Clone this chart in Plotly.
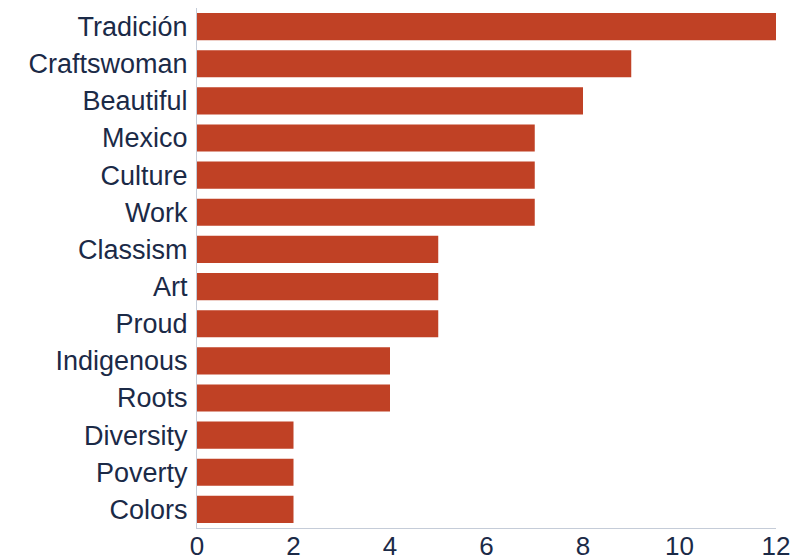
import plotly.graph_objects as go

# Word frequencies, listed top to bottom
words = ["Tradición", "Craftswoman", "Beautiful", "Mexico", "Culture", "Work",
         "Classism", "Art", "Proud", "Indigenous", "Roots", "Diversity",
         "Poverty", "Colors"]
counts = [12, 9, 8, 7, 7, 7, 5, 5, 5, 4, 4, 2, 2, 2]
x_ticks = [0, 2, 4, 6, 8, 10, 12]

bar_color = "#C04125"
text_color = "#1B2A47"
axis_color = "#C5CCD8"

fig = go.Figure(
    go.Bar(
        x=counts,
        y=words,
        orientation="h",
        marker=dict(color=bar_color, line=dict(width=0)),
    )
)

fig.update_layout(
    width=792,
    height=559,
    margin=dict(l=197, r=16, t=8, b=31, autoexpand=False),
    paper_bgcolor="white",
    plot_bgcolor="white",
    bargap=0.27,
    showlegend=False,
    font=dict(family="Liberation Sans, Arial, sans-serif", size=26, color=text_color),
)

fig.update_yaxes(
    categoryorder="array",
    categoryarray=words,
    autorange="reversed",
    automargin=False,
    showline=True,
    linecolor=axis_color,
    linewidth=1,
    showgrid=False,
    ticks="",
    ticklabelstandoff=3,
    tickfont=dict(size=27, color=text_color),
)

fig.update_xaxes(
    range=[0, 12],
    tickvals=x_ticks,
    ticktext=[str(v) for v in x_ticks],
    automargin=False,
    showline=True,
    linecolor=axis_color,
    linewidth=1,
    showgrid=False,
    zeroline=False,
    ticks="",
    ticklabelstandoff=-5,
    tickfont=dict(size=26, color=text_color),
)

fig.write_html("out.html")
